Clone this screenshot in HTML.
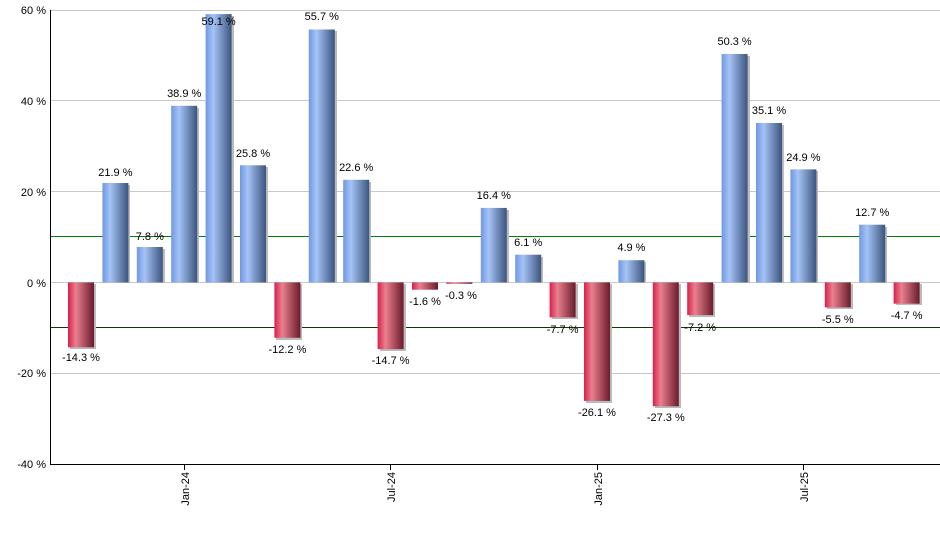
<!DOCTYPE html>
<html><head><meta charset="utf-8"><style>
body{margin:0;background:#fff}
svg{display:block;font-family:"Liberation Sans",sans-serif;font-size:11px}
</style></head><body>
<svg width="940" height="550" viewBox="0 0 940 550">
<defs>
<linearGradient id="b" x1="0" x2="1" y1="0" y2="0">
<stop offset="0" stop-color="#6f97e2"/><stop offset="0.3" stop-color="#a6c3f6"/><stop offset="1" stop-color="#3b557f"/>
</linearGradient>
<linearGradient id="r" x1="0" x2="1" y1="0" y2="0">
<stop offset="0" stop-color="#d9204a"/><stop offset="0.3" stop-color="#e9808f"/><stop offset="1" stop-color="#6b1a2b"/>
</linearGradient>
</defs>
<g stroke="#c8c8c8" stroke-width="1">
<line x1="50" x2="940" y1="10.5" y2="10.5"/>
<line x1="50" x2="940" y1="100.5" y2="100.5"/>
<line x1="50" x2="940" y1="191.5" y2="191.5"/>
<line x1="50" x2="940" y1="282.5" y2="282.5"/>
<line x1="50" x2="940" y1="373.5" y2="373.5"/>
</g>
<line x1="50" x2="940" y1="236.5" y2="236.5" stroke="#008000"/>
<line x1="50" x2="940" y1="327.5" y2="327.5" stroke="#0a3a0a"/>
<g text-anchor="end" fill="#000">
<text x="46" y="14">60 %</text><text x="46" y="105">40 %</text><text x="46" y="196">20 %</text>
<text x="46" y="287">0 %</text><text x="46" y="377">-20 %</text><text x="46" y="468">-40 %</text>
</g>
<g fill="#bbb">
<rect x="70" y="284" width="26" height="65"/><rect x="104" y="185" width="26" height="98"/>
<rect x="139" y="249" width="26" height="34"/><rect x="173" y="108" width="26" height="175"/>
<rect x="208" y="16" width="26" height="267"/><rect x="242" y="167" width="26" height="116"/>
<rect x="276" y="284" width="26" height="56"/><rect x="311" y="31" width="26" height="252"/>
<rect x="345" y="182" width="26" height="101"/><rect x="380" y="284" width="26" height="67"/>
<rect x="483" y="210" width="26" height="73"/><rect x="517" y="257" width="26" height="26"/>
<rect x="552" y="284" width="26" height="35"/><rect x="586" y="284" width="26" height="119"/>
<rect x="620" y="262" width="26" height="21"/><rect x="655" y="284" width="26" height="124"/>
<rect x="689" y="284" width="26" height="33"/><rect x="724" y="56" width="26" height="227"/>
<rect x="758" y="125" width="26" height="158"/><rect x="792" y="171" width="26" height="112"/>
<rect x="827" y="284" width="26" height="25"/><rect x="861" y="227" width="26" height="56"/>
<rect x="896" y="284" width="26" height="21"/>
</g>
<g>
<rect x="68" y="282.4" width="26" height="64.9" fill="url(#r)"/>
<rect x="102.4" y="183" width="26" height="99.4" fill="url(#b)"/>
<rect x="136.8" y="247" width="26" height="35.4" fill="url(#b)"/>
<rect x="171.2" y="105.8" width="26" height="176.6" fill="url(#b)"/>
<rect x="205.6" y="14.1" width="26" height="268.3" fill="url(#b)"/>
<rect x="240" y="165.3" width="26" height="117.1" fill="url(#b)"/>
<rect x="274.4" y="282.4" width="26" height="55.4" fill="url(#r)"/>
<rect x="308.8" y="29.5" width="26" height="252.9" fill="url(#b)"/>
<rect x="343.2" y="179.8" width="26" height="102.6" fill="url(#b)"/>
<rect x="377.6" y="282.4" width="26" height="66.7" fill="url(#r)"/>
<rect x="412" y="282.4" width="26" height="7.3" fill="url(#r)"/>
<rect x="446.4" y="282.4" width="26" height="1.4" fill="url(#r)"/>
<rect x="480.8" y="207.9" width="26" height="74.5" fill="url(#b)"/>
<rect x="515.2" y="254.7" width="26" height="27.7" fill="url(#b)"/>
<rect x="549.6" y="282.4" width="26" height="35" fill="url(#r)"/>
<rect x="584" y="282.4" width="26" height="118.5" fill="url(#r)"/>
<rect x="618.4" y="260.2" width="26" height="22.2" fill="url(#b)"/>
<rect x="652.8" y="282.4" width="26" height="123.9" fill="url(#r)"/>
<rect x="687.2" y="282.4" width="26" height="32.7" fill="url(#r)"/>
<rect x="721.6" y="54" width="26" height="228.4" fill="url(#b)"/>
<rect x="756" y="123" width="26" height="159.4" fill="url(#b)"/>
<rect x="790.4" y="169.4" width="26" height="113" fill="url(#b)"/>
<rect x="824.8" y="282.4" width="26" height="25" fill="url(#r)"/>
<rect x="859.2" y="224.7" width="26" height="57.7" fill="url(#b)"/>
<rect x="893.6" y="282.4" width="26" height="21.3" fill="url(#r)"/>
</g>
<g text-anchor="middle" fill="#000">
<text x="81" y="361">-14.3 %</text><text x="115.4" y="176">21.9 %</text>
<text x="149.8" y="240">7.8 %</text><text x="184.2" y="97">38.9 %</text>
<text x="218.6" y="25">59.1 %</text><text x="253" y="157">25.8 %</text>
<text x="287.4" y="353">-12.2 %</text><text x="321.8" y="20">55.7 %</text>
<text x="356.2" y="171">22.6 %</text><text x="390.6" y="364">-14.7 %</text>
<text x="425" y="305">-1.6 %</text><text x="461" y="299">-0.3 %</text>
<text x="493.8" y="199">16.4 %</text><text x="528.2" y="246">6.1 %</text>
<text x="562.6" y="333">-7.7 %</text><text x="597" y="416">-26.1 %</text>
<text x="631.4" y="251">4.9 %</text><text x="665.8" y="421">-27.3 %</text>
<text x="700.2" y="331">-7.2 %</text><text x="734.6" y="45">50.3 %</text>
<text x="769" y="114">35.1 %</text><text x="803.4" y="161">24.9 %</text>
<text x="837.8" y="323">-5.5 %</text><text x="872.2" y="216">12.7 %</text>
<text x="906.6" y="319">-4.7 %</text>
</g>
<line x1="50.5" x2="50.5" y1="10" y2="464" stroke="#000"/>
<line x1="50" x2="940" y1="464.5" y2="464.5" stroke="#000"/>
<g stroke="#000">
<line x1="184.5" x2="184.5" y1="464" y2="470"/><line x1="390.5" x2="390.5" y1="464" y2="470"/>
<line x1="597.5" x2="597.5" y1="464" y2="470"/><line x1="803.5" x2="803.5" y1="464" y2="470"/>
</g>
<g text-anchor="end" fill="#000">
<text transform="translate(189,472) rotate(-90)">Jan-24</text>
<text transform="translate(395,472) rotate(-90)">Jul-24</text>
<text transform="translate(602,472) rotate(-90)">Jan-25</text>
<text transform="translate(808,472) rotate(-90)">Jul-25</text>
</g>
</svg>
</body></html>
